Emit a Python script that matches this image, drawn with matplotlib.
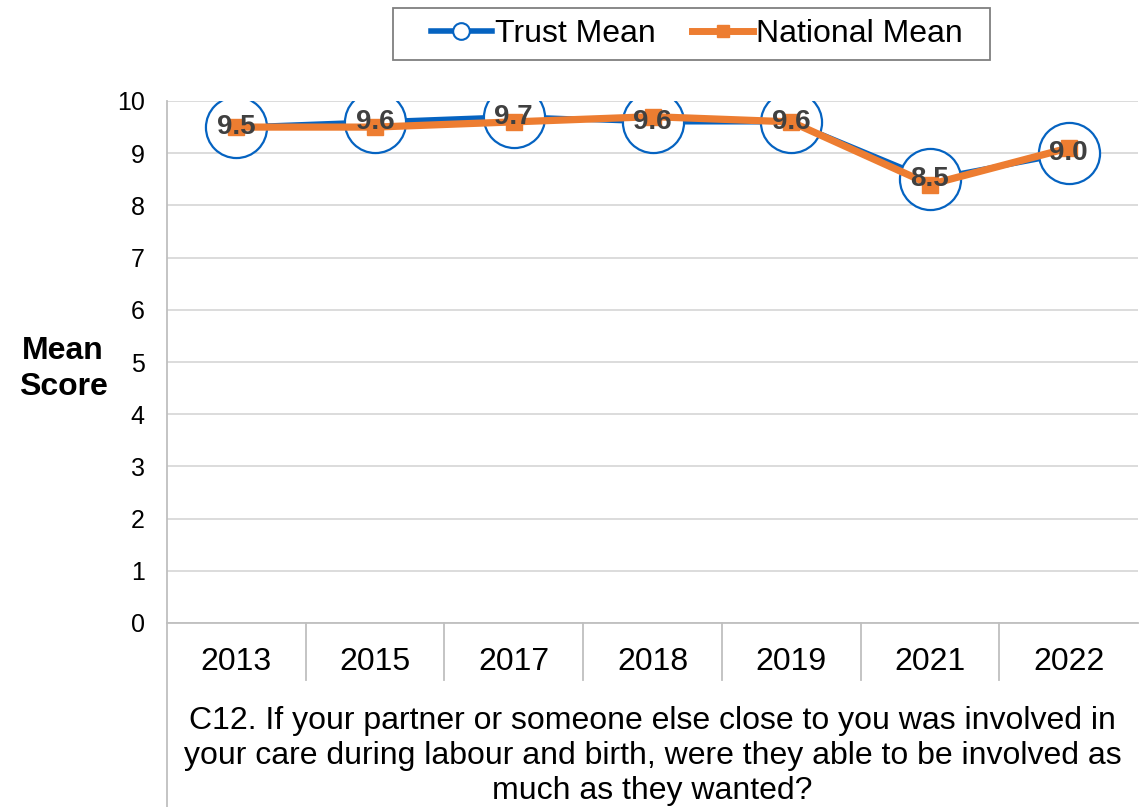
import matplotlib
matplotlib.use("Agg")
import matplotlib.pyplot as plt
from matplotlib.lines import Line2D
from matplotlib.patches import Rectangle
import matplotlib.transforms as mtransforms

plt.rcParams['font.family'] = ['Liberation Sans', 'DejaVu Sans']

years = ["2013", "2015", "2017", "2018", "2019", "2021", "2022"]
trust_mean = [9.5, 9.6, 9.7, 9.6, 9.6, 8.5, 9.0]
national_mean = [9.5, 9.5, 9.6, 9.7, 9.6, 8.4, 9.1]
y_ticks = [0, 1, 2, 3, 4, 5, 6, 7, 8, 9, 10]
question = [
    "C12. If your partner or someone else close to you was involved in",
    "your care during labour and birth, were they able to be involved as",
    "much as they wanted?",
]

BLUE = "#0563C1"
ORANGE = "#ED7D31"
GRID = "#d9d9d9"
W, H = 1139, 807

fig = plt.figure(figsize=(W / 100, H / 100), dpi=100)
ax_left, ax_right, ax_top, ax_bot = 167, 1138, 101, 623
ax = fig.add_axes([ax_left / W, 1 - ax_bot / H, (ax_right - ax_left) / W, (ax_bot - ax_top) / H])
ax_h = ax_bot - ax_top

x = list(range(len(years)))
ax.set_xlim(-0.5, len(years) - 0.5)
ax.set_ylim(0, 10)

for t in y_ticks:
    ax.axhline(t, color=GRID, lw=1.3, zorder=0)

ax.plot(x, trust_mean, color=BLUE, lw=3.8, marker="o", markersize=44,
        markerfacecolor="white", markeredgecolor=BLUE, markeredgewidth=1.6, zorder=2)
ax.plot(x, national_mean, color=ORANGE, lw=5.2, marker="s", markersize=11,
        markerfacecolor=ORANGE, markeredgecolor=ORANGE, zorder=3)

for xi, v in zip(x, trust_mean):
    ax.text(xi, v, f"{v:.1f}", ha="center", va="center", fontsize=20,
            fontweight="bold", color="#404040", zorder=4)

for side in ["top", "right", "bottom"]:
    ax.spines[side].set_visible(False)
ax.spines["left"].set_color("#bfbfbf")
ax.spines["left"].set_linewidth(1.3)

ax.set_yticks(y_ticks)
ax.set_yticklabels([str(t) for t in y_ticks], fontsize=18)
ax.tick_params(axis="y", length=0, pad=16)
ax.set_xticks([])

# Category table under the plot
trans = mtransforms.blended_transform_factory(ax.transData, ax.transAxes)
sep_bottom = -(680 - ax_bot) / ax_h
for xi in [i + 0.5 for i in range(len(years) - 1)]:
    ax.plot([xi, xi], [0, sep_bottom], transform=trans, color="#bfbfbf",
            lw=1.3, clip_on=False)
ax.plot([-0.5, len(years) - 0.5], [0, 0], transform=trans, color="#bfbfbf",
        lw=1.3, clip_on=False)
ax.plot([-0.5, -0.5], [0, -(H - ax_bot) / ax_h], transform=trans,
        color="#bfbfbf", lw=1.3, clip_on=False)

for xi, yr in zip(x, years):
    ax.text(xi, -(662 - ax_bot) / ax_h, yr, transform=trans, ha="center",
            va="center", fontsize=23)

for i, line in enumerate(question):
    ax.text(3, -(721 + 35 * i - ax_bot) / ax_h, line, transform=trans,
            ha="center", va="center", fontsize=23)

fig.text(63 / W, 1 - 369 / H, "Mean\nScore", ha="center", va="center",
         fontsize=23, fontweight="bold", linespacing=1.25)

handles = [
    Line2D([], [], color=BLUE, lw=4, marker="o", markersize=12,
           markerfacecolor="white", markeredgecolor=BLUE, markeredgewidth=1.5),
    Line2D([], [], color=ORANGE, lw=5, marker="s", markersize=9,
           markerfacecolor=ORANGE, markeredgecolor=ORANGE),
]
fig.legend(handles, ["Trust Mean", "National Mean"], loc="center",
           bbox_to_anchor=(697 / W, 1 - 34 / H), ncol=2, fontsize=23,
           handlelength=1.9, handletextpad=0.1, columnspacing=1.15,
           frameon=False)
fig.add_artist(Rectangle((393 / W, 1 - 60 / H), (990 - 393) / W, 52 / H,
                         transform=fig.transFigure, fill=False,
                         edgecolor="#7f7f7f", lw=1.3))

fig.savefig("out.png", dpi=100)
